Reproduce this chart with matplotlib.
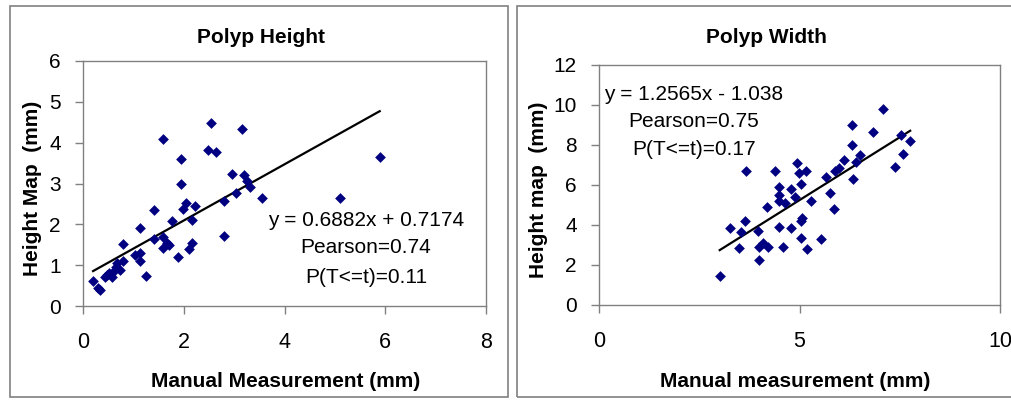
import matplotlib
matplotlib.use("Agg")
import matplotlib.pyplot as plt
from matplotlib.patches import Rectangle
import numpy as np

plt.rcParams['font.family'] = ['Liberation Sans', 'DejaVu Sans']

# ---------------- data ----------------
height_manual = [0.20, 0.30, 0.33, 0.44, 0.47, 0.52, 0.57, 0.60, 0.65, 0.68, 0.73,
                 0.79, 0.79, 1.03, 1.13, 1.13, 1.13, 1.25, 1.41, 1.41, 1.59, 1.59,
                 1.58, 1.67, 1.70, 1.76, 1.88, 1.94, 1.94, 1.99, 2.04, 2.11, 2.16,
                 2.16, 2.22, 2.49, 2.55, 2.64, 2.80, 2.80, 2.96, 3.04, 3.15, 3.19,
                 3.25, 3.31, 3.55, 5.10, 5.89]
height_map = [0.62, 0.45, 0.38, 0.70, 0.76, 0.82, 0.72, 0.84, 0.95, 1.06, 0.87,
              1.09, 1.51, 1.25, 1.31, 1.09, 1.92, 0.74, 2.34, 1.63, 4.09, 1.68,
              1.41, 1.55, 1.50, 2.07, 1.21, 3.59, 2.99, 2.37, 2.53, 1.39, 1.54,
              2.11, 2.45, 3.81, 4.48, 3.77, 2.56, 1.72, 3.23, 2.76, 4.34, 3.21,
              3.05, 2.91, 2.64, 2.64, 3.66]
height_slope, height_intercept = 0.6882, 0.7174
height_labels = ["y = 0.6882x + 0.7174", "Pearson=0.74", "P(T<=t)=0.11"]

width_manual = [3.01, 3.26, 3.50, 3.54, 3.63, 3.67, 3.96, 3.98, 3.98, 4.08, 4.22,
                4.19, 4.40, 4.50, 4.50, 4.50, 4.50, 4.59, 4.65, 4.80, 4.80, 4.93,
                4.90, 4.98, 5.04, 5.03, 5.06, 5.04, 5.15, 5.18, 5.28, 5.53, 5.65,
                5.75, 5.86, 5.88, 5.98, 6.11, 6.30, 6.30, 6.33, 6.40, 6.51, 6.84,
                7.08, 7.38, 7.57, 7.54, 7.76]
width_map = [1.47, 3.83, 2.85, 3.67, 4.22, 6.72, 3.70, 2.92, 2.25, 3.08, 2.92,
             4.92, 6.72, 5.92, 5.50, 5.22, 3.92, 2.92, 5.12, 5.80, 3.83, 7.08,
             5.42, 6.62, 6.05, 4.22, 4.33, 3.33, 6.72, 2.78, 5.20, 3.28, 6.42,
             5.58, 4.78, 6.72, 6.83, 7.25, 9.00, 8.00, 6.28, 7.17, 7.50, 8.67,
             9.78, 6.92, 7.55, 8.50, 8.22]
width_slope, width_intercept = 1.2565, -1.038
width_labels = ["y = 1.2565x - 1.038", "Pearson=0.75", "P(T<=t)=0.17"]

W, H = 1011, 401
fig = plt.figure(figsize=(W / 100, H / 100), dpi=100)

GRAY = '#808080'
NAVY = '#000080'


def fx(px):
    return px / W


def fy(py):
    return 1 - py / H


# panel boxes
for x0, x1 in [(10, 508), (517, 1016)]:
    fig.patches.append(Rectangle((fx(x0), fy(397)), fx(x1) - fx(x0), fy(6) - fy(397),
                                 transform=fig.transFigure, fill=False,
                                 edgecolor=GRAY, lw=1.2))


def style_axes(ax, xlim, ylim, xticks, yticks):
    ax.set_xlim(*xlim)
    ax.set_ylim(*ylim)
    ax.set_xticks(xticks)
    ax.set_yticks(yticks)
    for s in ax.spines.values():
        s.set_color(GRAY)
        s.set_linewidth(1.0)
    ax.tick_params(axis='both', direction='out', length=6, color=GRAY, width=1)
    ax.tick_params(axis='x', labelsize=15.5, pad=13)
    ax.tick_params(axis='y', labelsize=15, pad=10)


# left panel
axL = fig.add_axes([fx(83), fy(306), fx(486) - fx(83), fy(61) - fy(306)])
axL.scatter(height_manual, height_map, marker='D', s=30, color=NAVY,
            linewidths=0, zorder=3)
xs = np.array([min(height_manual), max(height_manual)])
axL.plot(xs, height_slope * xs + height_intercept, color='black', lw=1.6, zorder=2)
style_axes(axL, (0, 8), (0, 6), [0, 2, 4, 6, 8], [0, 1, 2, 3, 4, 5, 6])
for lab, yy in zip(height_labels, [0.351, 0.237, 0.118]):
    axL.text(0.702, yy, lab, transform=axL.transAxes, ha='center', va='center',
             fontsize=15)

# right panel
axR = fig.add_axes([fx(599), fy(305), fx(1000) - fx(599), fy(65) - fy(305)])
axR.scatter(width_manual, width_map, marker='D', s=30, color=NAVY,
            linewidths=0, zorder=3)
xs = np.array([min(width_manual), max(width_manual)])
axR.plot(xs, width_slope * xs + width_intercept, color='black', lw=1.6, zorder=2)
style_axes(axR, (0, 10), (0, 12), [0, 5, 10], [0, 2, 4, 6, 8, 10, 12])
for lab, yy in zip(width_labels, [0.875, 0.764, 0.646]):
    axR.text(0.237, yy, lab, transform=axR.transAxes, ha='center', va='center',
             fontsize=15)

# titles and axis labels
fig.text(fx(261), fy(43), "Polyp Height", ha='center', va='baseline',
         fontsize=15, fontweight='bold')
fig.text(fx(766), fy(43), "Polyp Width", ha='center', va='baseline',
         fontsize=15, fontweight='bold')
fig.text(fx(286), fy(387), "Manual Measurement (mm)", ha='center', va='baseline',
         fontsize=15, fontweight='bold')
fig.text(fx(795), fy(387), "Manual measurement (mm)", ha='center', va='baseline',
         fontsize=15, fontweight='bold')
fig.text(fx(33), fy(188), "Height Map  (mm)", ha='center', va='center',
         rotation=90, fontsize=15, fontweight='bold')
fig.text(fx(539), fy(190), "Height map  (mm)", ha='center', va='center',
         rotation=90, fontsize=15, fontweight='bold')

fig.savefig("out.png", dpi=100)
